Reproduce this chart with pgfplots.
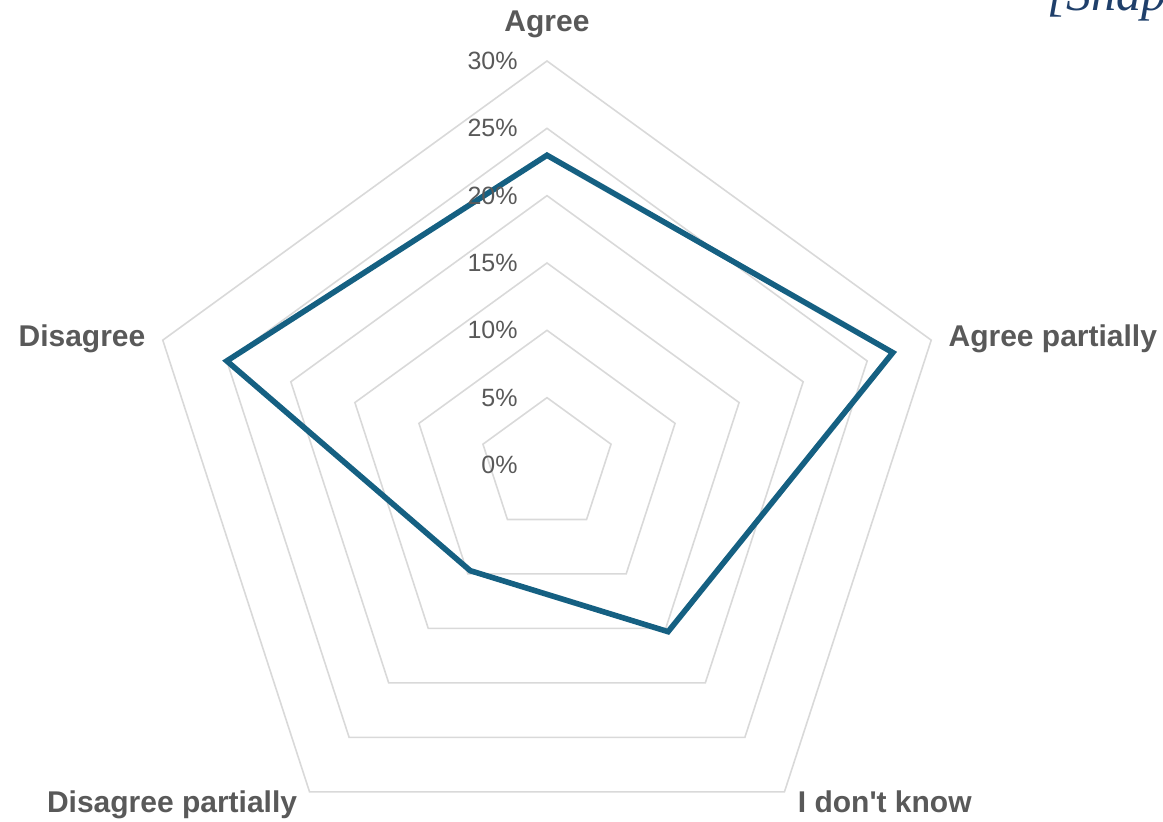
\documentclass[border=0pt]{standalone}
\usepackage{pgfplots}
\pgfplotsset{compat=1.18}
\usepgfplotslibrary{polar}
\usepackage{fontspec}
\setmainfont{Liberation Sans}
\newfontfamily\snapfont{Liberation Serif}
\definecolor{gridc}{HTML}{D9D9D9}
\definecolor{txtc}{HTML}{595959}
\definecolor{linec}{HTML}{156082}
\definecolor{snapc}{HTML}{1F3F6A}
\begin{document}
\begin{tikzpicture}
\useasboundingbox (0,0) rectangle (581.5pt,411pt);
\begin{polaraxis}[
  at={(273.5pt,178.5pt)}, anchor=center,
  scale only axis, width=404pt, height=404pt,
  ymin=0, ymax=30, hide axis, clip=false,
]
% grid pentagons
\foreach \r in {5,10,15,20,25,30}{
  \edef\temp{\noexpand\addplot[gridc, line width=0.8pt, line join=miter] coordinates {(90,\r) (18,\r) (-54,\r) (-126,\r) (162,\r)} -- cycle;}
  \temp
}
% data
\addplot[linec, line width=2.8pt, line join=miter] coordinates {
  (90,23) (18,27) (-54,15.3) (-126,9.7) (162,25)
} -- cycle;
% radial tick labels
\foreach \r/\t in {0/0,5/5,10/10,15/15,20/20,25/25,30/30}{
  \edef\temp{\noexpand\node[anchor=east, inner sep=0pt, xshift=-14.5pt, text=txtc, font=\noexpand\fontsize{12.5}{14}\noexpand\selectfont] at (axis cs:90,\r) {\t\noexpand\%};}
  \temp
}
% category labels
\begin{scope}[every node/.style={inner sep=0pt, text=txtc, font=\fontsize{15}{17}\selectfont\bfseries}]
\node[anchor=base] at ([yshift=14.5pt]axis cs:90,30) {Agree};
\node[anchor=base west] at ([xshift=8.5pt,yshift=-3pt]axis cs:18,30) {Agree partially};
\node[anchor=base west] at ([xshift=6.5pt,yshift=-10.5pt]axis cs:-54,30) {I don\textquotesingle t know};
\node[anchor=base east] at ([xshift=-6pt,yshift=-10.5pt]axis cs:-126,30) {Disagree partially};
\node[anchor=base east] at ([xshift=-8.5pt,yshift=-3pt]axis cs:162,30) {Disagree};
\end{scope}
\end{polaraxis}
\node[anchor=base west, inner sep=0pt, text=snapc, font=\snapfont\itshape\fontsize{25}{30}\selectfont] at (523.5pt,405.5pt) {[Snapshot]};
\end{tikzpicture}
\end{document}
